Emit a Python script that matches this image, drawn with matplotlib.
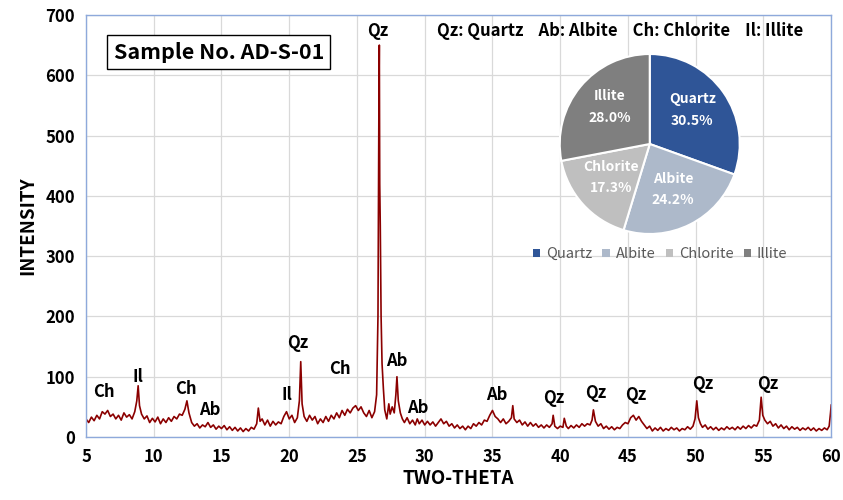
import numpy as np
import matplotlib
matplotlib.use("Agg")
import matplotlib.pyplot as plt
from matplotlib.patches import Patch

plt.rcParams['font.family'] = ['Noto Sans CJK KR', 'DejaVu Sans']

# XRD trace (two-theta, intensity)
two_theta = [
    5.0, 5.2, 5.4, 5.6, 5.8, 6.0, 6.2, 6.4, 6.6, 6.8, 7.0, 7.2, 7.4, 7.6, 7.8, 8.0, 8.2, 8.4, 8.6,
    8.75, 8.85, 8.95, 9.1, 9.3, 9.5, 9.7, 9.9, 10.1, 10.3, 10.5, 10.7, 10.9, 11.1, 11.3, 11.5, 11.7,
    11.9, 12.1, 12.3, 12.45, 12.6, 12.8, 13.0, 13.2, 13.4, 13.6, 13.8, 14.0, 14.2, 14.4, 14.6, 14.8,
    15.0, 15.2, 15.4, 15.6, 15.8, 16.0, 16.2, 16.4, 16.6, 16.8, 17.0, 17.2, 17.4, 17.6, 17.72, 17.85,
    18.0, 18.2, 18.4, 18.6, 18.8, 19.0, 19.2, 19.4, 19.6, 19.8, 20.0, 20.2, 20.4, 20.6, 20.75, 20.85,
    20.95, 21.1, 21.3, 21.5, 21.7, 21.9, 22.1, 22.3, 22.5, 22.7, 22.9, 23.1, 23.3, 23.5, 23.7, 23.9,
    24.1, 24.3, 24.5, 24.7, 24.9, 25.1, 25.3, 25.5, 25.7, 25.9, 26.1, 26.3, 26.45, 26.55, 26.62, 26.65,
    26.68, 26.72, 26.78, 26.85, 26.95, 27.05, 27.2, 27.35, 27.45, 27.6, 27.75, 27.87, 27.95, 28.05,
    28.2, 28.35, 28.5, 28.7, 28.9, 29.1, 29.3, 29.45, 29.6, 29.8, 30.0, 30.2, 30.4, 30.6, 30.8, 31.0,
    31.2, 31.4, 31.6, 31.8, 32.0, 32.2, 32.4, 32.6, 32.8, 33.0, 33.2, 33.4, 33.6, 33.8, 34.0, 34.2,
    34.4, 34.6, 34.8, 35.0, 35.2, 35.4, 35.6, 35.8, 36.0, 36.2, 36.4, 36.5, 36.6, 36.8, 37.0, 37.2,
    37.4, 37.6, 37.8, 38.0, 38.2, 38.4, 38.6, 38.8, 39.0, 39.2, 39.4, 39.48, 39.6, 39.8, 40.0, 40.2,
    40.3, 40.45, 40.6, 40.8, 41.0, 41.2, 41.4, 41.6, 41.8, 42.0, 42.2, 42.35, 42.45, 42.6, 42.8, 43.0,
    43.2, 43.4, 43.6, 43.8, 44.0, 44.2, 44.4, 44.6, 44.8, 45.0, 45.2, 45.4, 45.6, 45.8, 46.0, 46.2,
    46.4, 46.6, 46.8, 47.0, 47.2, 47.4, 47.6, 47.8, 48.0, 48.2, 48.4, 48.6, 48.8, 49.0, 49.2, 49.4,
    49.6, 49.8, 49.95, 50.08, 50.2, 50.35, 50.5, 50.7, 50.9, 51.1, 51.3, 51.5, 51.7, 51.9, 52.1, 52.3,
    52.5, 52.7, 52.9, 53.1, 53.3, 53.5, 53.7, 53.9, 54.1, 54.3, 54.5, 54.7, 54.83, 54.95, 55.1, 55.3,
    55.5, 55.7, 55.9, 56.1, 56.3, 56.5, 56.7, 56.9, 57.1, 57.3, 57.5, 57.7, 57.9, 58.1, 58.3, 58.5,
    58.7, 58.9, 59.1, 59.3, 59.5, 59.7, 59.85, 59.95, 60.0,
]
intensity = [
    30, 24, 33, 27, 36, 30, 42, 38, 44, 34, 38, 30, 36, 28, 40, 33, 37, 30, 42,
    60, 85, 52, 38, 30, 35, 24, 31, 25, 33, 22, 30, 24, 32, 26, 34, 30,
    38, 36, 46, 60, 40, 24, 18, 22, 15, 20, 17, 24, 16, 20, 13, 18,
    14, 19, 12, 17, 11, 16, 10, 15, 9, 14, 10, 16, 13, 22, 48, 26,
    30, 20, 28, 18, 26, 20, 25, 22, 34, 42, 30, 36, 24, 32, 60, 125,
    55, 34, 26, 36, 28, 34, 22, 30, 24, 34, 26, 36, 30, 40, 32, 44,
    36, 46, 40, 48, 52, 44, 50, 40, 34, 44, 32, 42, 70, 200, 560, 650,
    420, 350, 200, 122, 80, 45, 30, 55, 38, 50, 40, 70, 100, 60,
    40, 30, 24, 32, 22, 28, 20, 30, 22, 28, 20, 26, 20, 25, 18, 24,
    30, 22, 26, 18, 22, 15, 20, 14, 18, 12, 18, 14, 22, 18, 24, 20,
    28, 26, 36, 44, 34, 30, 24, 30, 22, 26, 32, 52, 30, 24, 28, 20,
    25, 18, 24, 18, 22, 16, 20, 15, 20, 16, 22, 36, 18, 14, 18, 16,
    31, 18, 14, 19, 15, 20, 16, 22, 18, 22, 20, 28, 45, 26, 18, 22,
    14, 18, 13, 17, 12, 16, 14, 20, 24, 22, 32, 36, 28, 34, 26, 20,
    14, 18, 10, 15, 11, 16, 10, 14, 11, 16, 12, 15, 10, 14, 12, 17,
    13, 18, 30, 60, 32, 22, 16, 20, 13, 17, 12, 16, 11, 15, 12, 17,
    13, 16, 12, 17, 13, 18, 14, 19, 15, 20, 18, 28, 66, 36, 28, 22,
    26, 18, 22, 15, 20, 14, 18, 12, 17, 13, 16, 11, 15, 12, 16, 11,
    15, 10, 14, 11, 15, 12, 18, 40, 53,
]

# peak labels
peak_labels = ["Ch", "Il", "Ch", "Ab", "Il", "Qz", "Ch", "Qz", "Ab", "Ab",
               "Ab", "Qz", "Qz", "Qz", "Qz", "Qz"]
label_x = [6.3, 8.85, 12.4, 14.15, 19.85, 20.65, 23.75, 26.5, 27.9, 29.45,
           35.35, 39.55, 42.65, 45.6, 50.55, 55.3]
label_y = [75, 100, 80, 45, 70, 156, 113, 673, 126, 48,
           70, 65, 73, 70, 88, 88]

# mineral composition
minerals = ["Quartz", "Albite", "Chlorite", "Illite"]
shares = [30.5, 24.2, 17.3, 28.0]
pie_colors = ["#2F5597", "#ADB9CA", "#BFBFBF", "#7F7F7F"]

fig = plt.figure(figsize=(8.43, 5.0), dpi=100)
ax = fig.add_axes([0.102, 0.126, 0.884, 0.844])

ax.plot(two_theta, intensity, color="#8B0000", linewidth=1.2)
ax.set_xlim(5, 60)
ax.set_ylim(0, 700)
ax.set_xticks(np.arange(5, 61, 5))
ax.set_yticks(np.arange(0, 701, 100))
ax.grid(True, color="#D9D9D9", linewidth=0.9)
ax.set_axisbelow(True)
for sp in ax.spines.values():
    sp.set_color("#8EA9DB")
    sp.set_linewidth(1.0)
ax.tick_params(length=0, labelsize=12, pad=8)
for lab in ax.get_xticklabels() + ax.get_yticklabels():
    lab.set_fontweight("bold")

ax.set_xlabel("TWO-THETA", fontsize=13.5, fontweight="bold", labelpad=2)
ax.set_ylabel("INTENSITY", fontsize=13.5, fontweight="bold", labelpad=6)

for t, x, y in zip(peak_labels, label_x, label_y):
    ax.text(x, y, t, ha="center", va="center", fontsize=12, fontweight="bold")

ax.text(14.8, 638, "Sample No. AD-S-01", ha="center", va="center", fontsize=15.5,
        fontweight="bold",
        bbox=dict(boxstyle="square,pad=0.3", facecolor="white", edgecolor="black", linewidth=1))

ax.text(44.4, 673, "Qz: Quartz    Ab: Albite    Ch: Chlorite    Il: Illite",
        ha="center", va="center", fontsize=12, fontweight="bold")

# pie inset
pax = fig.add_axes([0.664, 0.532, 0.2135, 0.36])
wedges, texts = pax.pie(shares, colors=pie_colors, startangle=90, counterclock=False,
                        wedgeprops=dict(edgecolor="white", linewidth=1.5))
for w, name, val in zip(wedges, minerals, shares):
    ang = np.deg2rad((w.theta1 + w.theta2) / 2)
    pax.text(0.58 * np.cos(ang), 0.6 * np.sin(ang) + 0.03, f"{name}\n{val:.1f}%",
             ha="center", va="center", color="white", fontsize=10,
             fontweight="bold", linespacing=1.7)
pax.set_xlim(-1.0, 1.0)
pax.set_ylim(-1.0, 1.0)
pax.set_aspect("equal")

handles = [Patch(facecolor=c, edgecolor="none") for c in pie_colors]
leg = fig.legend(handles, minerals, loc="center", bbox_to_anchor=(0.783, 0.492), ncol=4,
                 frameon=False, fontsize=10.5, handlelength=0.5, handleheight=0.5,
                 handletextpad=0.4, columnspacing=0.7)
for t in leg.get_texts():
    t.set_color("#595959")

fig.savefig("out.png", dpi=100)
